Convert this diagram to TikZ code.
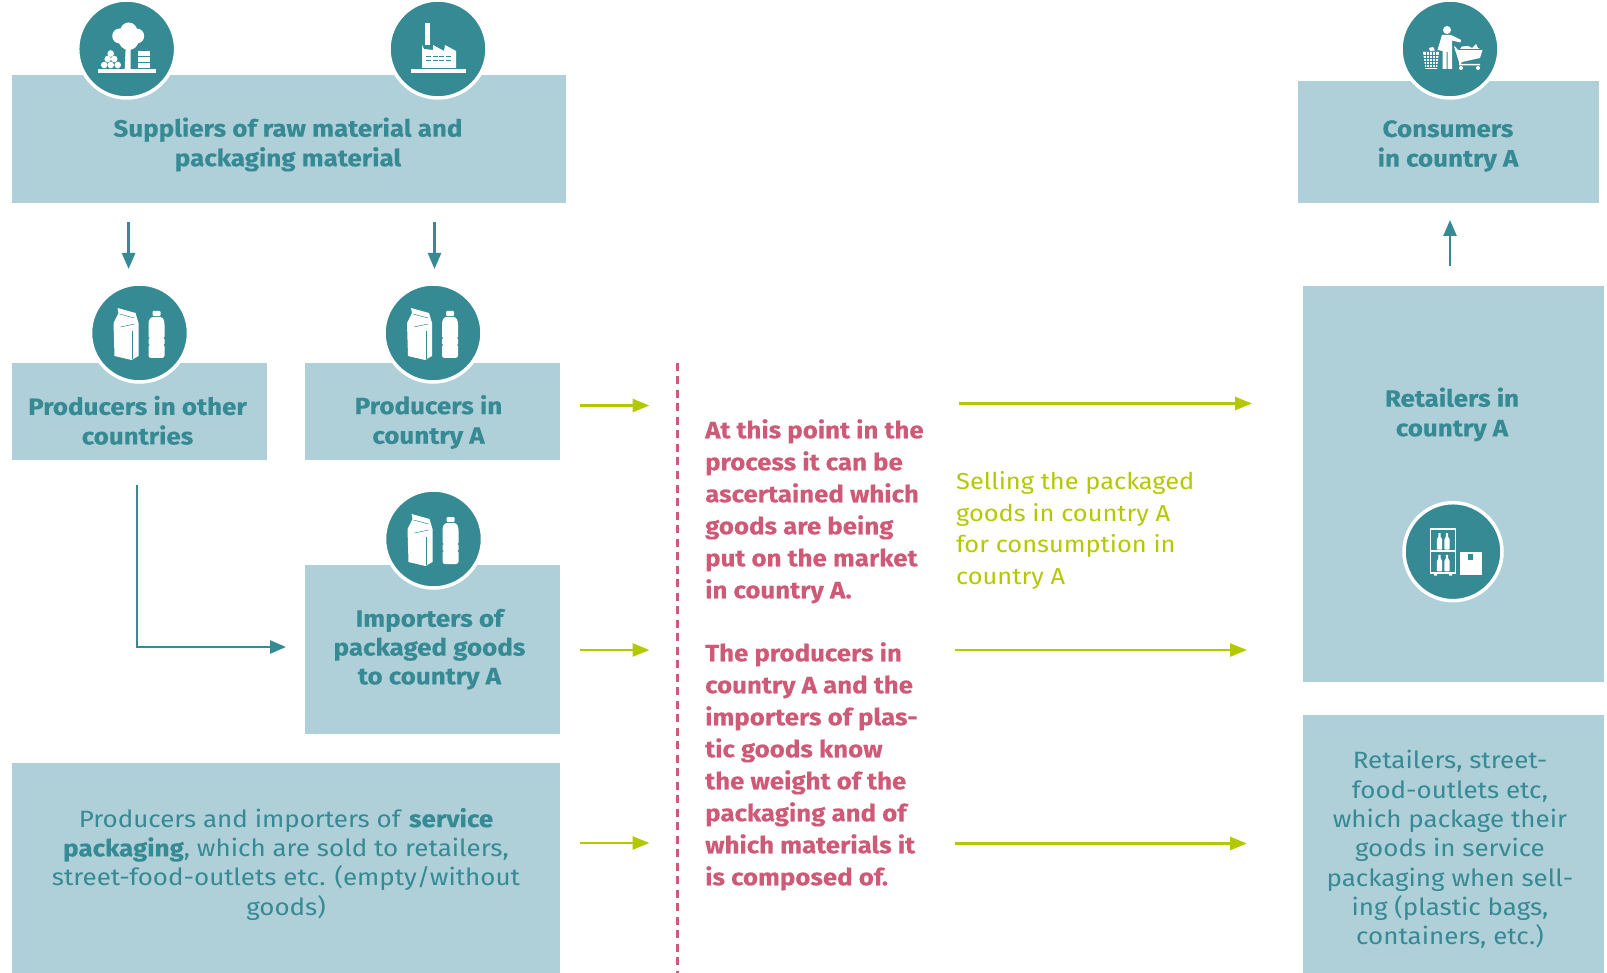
\documentclass[tikz,border=0pt]{standalone}
\usepackage{fontspec}
\setmainfont{Fira Sans}[FakeStretch=1.1,BoldFeatures={FakeBold=0.2}]
\usetikzlibrary{arrows.meta}
\definecolor{tealc}{HTML}{368A93}
\definecolor{boxc}{HTML}{AFCFD9}
\definecolor{redc}{HTML}{CE5A78}
\definecolor{greenc}{HTML}{B4C800}
\tikzset{
 boxn/.style={fill=boxc,draw=none,inner sep=0pt,outer sep=0pt,rectangle},
 disc/.style={circle,fill=tealc,draw=white,line width=3.5pt,minimum size=98pt,inner sep=0pt},
 boxtxt/.style={text=tealc,font=\fontsize{23.6}{29.6}\selectfont\bfseries,align=center,inner sep=0pt},
 lighttxt/.style={text=tealc,font=\fontsize{23.6}{29.3}\selectfont,align=center,inner sep=0pt},
 redtxt/.style={text=redc,font=\fontsize{23.5}{32}\selectfont\bfseries,align=left,inner sep=0pt,anchor=north west},
 greentxt/.style={text=greenc,font=\fontsize{23.1}{31.8}\selectfont,align=left,inner sep=0pt,anchor=north west},
 tealarrow/.style={draw=tealc,line width=2.6pt,-{Triangle[length=16pt,width=13pt]}},
 greenarrow/.style={draw=greenc,line width=2.6pt,-{Triangle[length=17pt,width=13pt]}},
 pics/treeicon/.style={code={
  \fill[white] (-29,20) rectangle (29,24);
  \fill[white] (-7,-13) circle (7.5) (2,-18) circle (8.5) (10,-13) circle (7.5) (2,-9) circle (10);
  \fill[white] (-1,-2) -- (4,-2) -- (4,20) -- (-2,20) -- cycle;
  \foreach \a/\b in {-22.5/16,-16/16,-9/16,-19/10,-12.5/10,-16/4.5} \fill[white] (\a,\b) circle (3.3);
  \fill[white] (11.5,2) rectangle (23,7);
  \fill[white] (11.5,8.5) rectangle (23,13);
  \fill[white] (11.5,14.5) rectangle (23,19.5);
 }},
 pics/factoryicon/.style={code={
  \fill[white] (-27.5,20) rectangle (27.5,24);
  \fill[white] (-13.5,-26) rectangle (-8,-4);
  \fill[white] (-16,19) -- (-16,-4) -- (-14,0) -- (-5,1) -- (-5,-4) -- (6,2) -- (7,-4) -- (18,2) -- (18,19) -- cycle;
  \foreach \a in {-12,-5.5,1,8} {\fill[tealc] (\a,7) rectangle ++(5,1.3); \fill[tealc] (\a,11) rectangle ++(5,1.3);}
 }},
 pics/personicon/.style={code={
  \fill[white] (-3,-19) circle (4);
  \fill[white] (-8,-14) -- (1,-14) -- (11,-9) -- (10.5,-6.5) -- (2,-8.5) -- (2,20) -- (-2.5,20) -- (-2.5,3) -- (-3.5,3) -- (-3.5,20) -- (-7.5,20) -- (-7.5,2) -- (-12.5,1) -- cycle;
  \fill[white] (-27,3) -- (-11,3) -- (-13,20) -- (-24.5,20) -- cycle;
  \fill[white] (-21,-1) -- (-17,-2) -- (-15,1.5) -- (-20,2) -- cycle;
  \foreach \a in {-24,-21,-18,-15} \draw[tealc,line width=.25pt] (\a,3) -- (\a,19);
  \foreach \b in {6,9,12,15,18} \draw[tealc,line width=.25pt] (-27,\b) -- (-11,\b);
  \fill[white] (5,-2.5) -- (8,1) -- (32.5,1) -- (30,9) -- (12,13) -- (10,15) -- (30,15) -- (30,16.5) -- (9,16.5) -- (9,13) -- (4,-2.5) -- cycle;
  \fill[white] (10,0) -- (12,-2.5) -- (18,-3) -- (22,-1) -- (26,-5) -- (28,-1) -- (30,0) -- cycle;
  \draw[tealc,line width=.4pt] (8.5,.7) -- (32,.7);
  \fill[white] (11,19) circle (2) (28,19) circle (2);
 }},
 pics/bottleicon/.style={code={
  \fill[white] (-22,-25) -- (-4,-20) -- (-1,-10) -- (-1,23) -- (-8,27) -- (-25,23) -- (-26,-10) -- (-21,-20) -- cycle;
  \draw[tealc,line width=.5pt] (-20,-19) -- (-5,-15);
  \draw[tealc,line width=.5pt] (-5,-9) -- (-19,-6);
  \draw[tealc,line width=.4pt] (-7,-2) -- (-7,26);
  \fill[white,rounded corners=1pt] (13,-22) rectangle (21,-17);
  \fill[white,rounded corners=2.5pt] (11,-16) -- (23,-16) -- (25,-11) -- (25,25) -- (9,25) -- (9,-11) -- cycle;
  \fill[tealc] (9,5) circle (1) (9,12) circle (1) (25,5) circle (1) (25,12) circle (1);
 }},
 pics/shelficon/.style={code={
  \draw[white,line width=1.7pt] (-22.5,-23) rectangle (2.5,21);
  \draw[white,line width=1.7pt] (-22.5,-1) -- (2.5,-1);
  \fill[white] (-19,21) rectangle (-16,24) (-4,21) rectangle (-1,24);
  \foreach \a in {-13.5,-6} \foreach \b in {0,21.7} {
   \fill[white,rounded corners=1pt] (\a-2.7,-13+\b) rectangle (\a+2.7,-2+\b);
   \fill[white] (\a-2.7,-12+\b) -- (\a-1.2,-15+\b) -- (\a-1.2,-18.5+\b) -- (\a+1.2,-18.5+\b) -- (\a+1.2,-15+\b) -- (\a+2.7,-12+\b) -- cycle;
  }
  \fill[white] (6.5,0) rectangle (29,23);
  \fill[tealc] (15,2) rectangle (20,8);
 }},
}
\newcommand{\bx}[5]{\node[boxn,minimum width={#4-#2},minimum height={#5-#3}] (#1) at ({(#2+#4)/2},{(#3+#5)/2}) {};}
\begin{document}
\begin{tikzpicture}[x=1pt,y=-1pt]
\useasboundingbox (0,0) rectangle (1607,973);
% boxes
\bx{supp}{12.3}{75}{565.7}{203}
\bx{cons}{1298}{81}{1599}{203}
\bx{pother}{12.3}{363}{267}{460}
\bx{pa}{304.6}{363}{560}{460}
\bx{imp}{304.6}{564.5}{560}{733.5}
\bx{serv}{12.3}{763}{560}{973}
\bx{ret}{1303}{286}{1604}{682}
\bx{retb}{1303}{715}{1604}{973}
% discs and icons
\node[disc] (d1) at (126.7,49) {}; \pic at (d1.center) {treeicon};
\node[disc] (d2) at (438,49) {}; \pic at (d2.center) {factoryicon};
\node[disc] (d3) at (1450,49) {}; \pic at (d3.center) {personicon};
\node[disc] (d4) at (139.5,333) {}; \pic at (d4.center) {bottleicon};
\node[disc] (d5) at (433,333) {}; \pic at (d5.center) {bottleicon};
\node[disc] (d6) at (433.5,539) {}; \pic at (d6.center) {bottleicon};
\node[disc] (d7) at (1453,551.7) {}; \pic at (d7.center) {shelficon};
% texts
\node[boxtxt] (t1) at (288,144.5) {Suppliers of raw material and\\packaging material};
\node[boxtxt] (t2) at (1448,146) {Consumers\\in country A};
\node[boxtxt] (t3) at (137.5,420.3) {Producers in other\\countries};
\node[boxtxt] (t4) at (428.5,422) {Producers in\\country A};
\node[boxtxt,font=\fontsize{23.6}{28.8}\selectfont\bfseries] (t5) at (429.5,649.2) {Importers of\\packaged goods\\to country A};
\node[lighttxt] (t6) at (286,864) {Producers and importers of \textbf{service}\\\textbf{packaging}, which are sold to retailers,\\street-food-outlets etc. (empty/without\\goods)};
\node[boxtxt] (t7) at (1452,414.5) {Retailers in\\country A};
\node[lighttxt] (t8) at (1450,849.5) {Retailers, street-\\food-outlets etc,\\which package their\\goods in service\\packaging when sell-\\ing (plastic bags,\\containers, etc.)};
\node[redtxt] (t9) at (705,419) {At this point in the\\process it can be\\ascertained which\\goods are being\\put on the market\\in country A.};
\node[redtxt] (t10) at (705,642) {The producers in\\country A and the\\importers of plas-\\tic goods know\\the weight of the\\packaging and of\\which materials it\\is composed of.};
\node[greentxt] (t11) at (956,471) {Selling the packaged\\goods in country A\\for consumption in\\country A};
% free ends of connectors
\coordinate (a1s) at (128.6,222); \coordinate (a1e) at (128.6,269);
\coordinate (a2s) at (434.5,222); \coordinate (a2e) at (434.5,269);
\coordinate (a3s) at (1450,266.5); \coordinate (a3e) at (1450,220);
\coordinate (a4s) at (136.8,485); \coordinate (a4m) at (136.8,647); \coordinate (a4e) at (286,647);
\coordinate (g1s) at (580,405.5); \coordinate (g1e) at (649.5,405.5);
\coordinate (g2s) at (580,650); \coordinate (g2e) at (649.5,650);
\coordinate (g3s) at (580,843); \coordinate (g3e) at (649.5,843);
\coordinate (h1s) at (959,403.5); \coordinate (h1e) at (1252,403.5);
\coordinate (h2s) at (955,650); \coordinate (h2e) at (1247,650);
\coordinate (h3s) at (955,843.5); \coordinate (h3e) at (1247,843.5);
\coordinate (ds) at (677.5,363); \coordinate (de) at (677.5,973);
% connectors
\draw[tealarrow] (a1s) -- (a1e);
\draw[tealarrow] (a2s) -- (a2e);
\draw[tealarrow] (a3s) -- (a3e);
\draw[tealarrow] (a4s) -- (a4m) -- (a4e);
\foreach \n in {g1,g2,g3,h1,h2,h3} \draw[greenarrow] (\n s) -- (\n e);
\draw[redc,line width=2.4pt,dash pattern=on 8pt off 5.5pt] (ds) -- (de);
\end{tikzpicture}
\end{document}
